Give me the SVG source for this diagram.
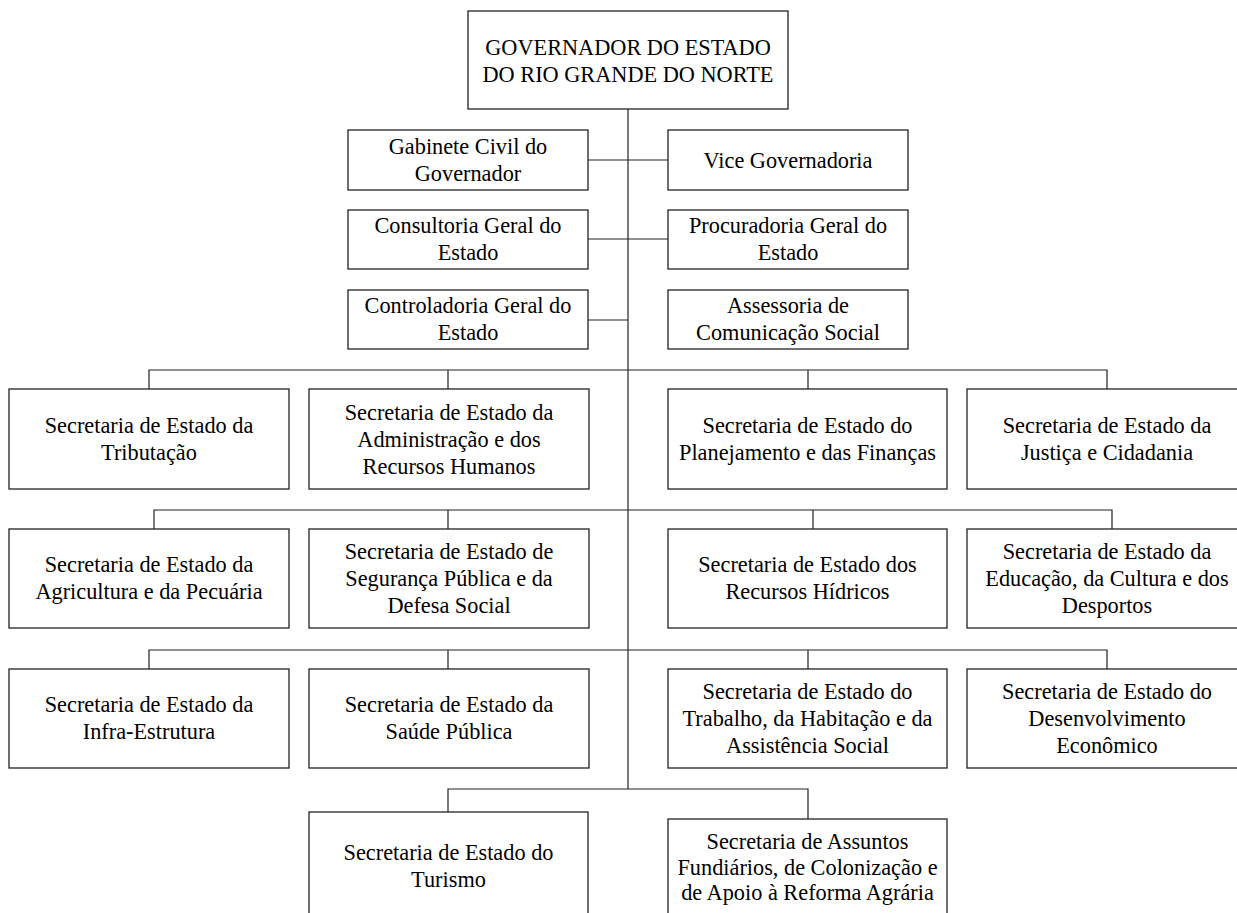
<svg xmlns="http://www.w3.org/2000/svg" width="1237" height="913" viewBox="0 0 1237 913">
<style>
.box{fill:#fff;stroke:#222;stroke-width:1.3}
.ln{fill:none;stroke:#222;stroke-width:1.2}
text{font-family:"Liberation Serif","Times New Roman",serif;font-size:22.3px;fill:#000;text-anchor:middle}
</style>
<rect width="1237" height="913" fill="#fff"/>
<g id="connectors">
<path class="ln" d="M628,109V789"/>
<path class="ln" d="M588,160H668M588,239H668M588,320H628"/>
<path class="ln" d="M149,389V370H1107V389M448,370V389M808,370V389"/>
<path class="ln" d="M154,529V510H1112V529M448,510V529M813,510V529"/>
<path class="ln" d="M149,669V650H1107V669M448,650V669M808,650V669"/>
<path class="ln" d="M448,812V789H808V819"/>
</g>
<g id="governador"><rect class="box" x="468" y="11" width="320" height="98"/><text x="628" y="55">GOVERNADOR DO ESTADO</text><text x="628" y="82">DO RIO GRANDE DO NORTE</text></g>
<g id="gabinete"><rect class="box" x="348" y="130" width="240" height="60"/><text x="468" y="154">Gabinete Civil do</text><text x="468" y="181">Governador</text></g>
<g id="vice"><rect class="box" x="668" y="130" width="240" height="60"/><text x="788" y="167.5">Vice Governadoria</text></g>
<g id="consultoria"><rect class="box" x="348" y="210" width="240" height="59"/><text x="468" y="233">Consultoria Geral do</text><text x="468" y="260">Estado</text></g>
<g id="procuradoria"><rect class="box" x="668" y="210" width="240" height="59"/><text x="788" y="233">Procuradoria Geral do</text><text x="788" y="260">Estado</text></g>
<g id="controladoria"><rect class="box" x="348" y="290" width="240" height="59"/><text x="468" y="313">Controladoria Geral do</text><text x="468" y="340">Estado</text></g>
<g id="assessoria"><rect class="box" x="668" y="290" width="240" height="59"/><text x="788" y="313">Assessoria de</text><text x="788" y="340">Comunicação Social</text></g>

<g id="tributacao"><rect class="box" x="9" y="389" width="280" height="100"/><text x="149" y="433">Secretaria de Estado da</text><text x="149" y="460">Tributação</text></g>
<g id="administracao"><rect class="box" x="309" y="389" width="280" height="100"/><text x="449" y="419.5">Secretaria de Estado da</text><text x="449" y="446.5">Administração e dos</text><text x="449" y="473.5">Recursos Humanos</text></g>
<g id="planejamento"><rect class="box" x="668" y="389" width="279" height="100"/><text x="807.5" y="433">Secretaria de Estado do</text><text x="807.5" y="460">Planejamento e das Finanças</text></g>
<g id="justica"><rect class="box" x="967" y="389" width="280" height="100"/><text x="1107" y="433">Secretaria de Estado da</text><text x="1107" y="460">Justiça e Cidadania</text></g>

<g id="agricultura"><rect class="box" x="9" y="529" width="280" height="99"/><text x="149" y="572">Secretaria de Estado da</text><text x="149" y="599">Agricultura e da Pecuária</text></g>
<g id="seguranca"><rect class="box" x="309" y="529" width="280" height="99"/><text x="449" y="559">Secretaria de Estado de</text><text x="449" y="586">Segurança Pública e da</text><text x="449" y="613">Defesa Social</text></g>
<g id="recursos-hidricos"><rect class="box" x="668" y="529" width="279" height="99"/><text x="807.5" y="572">Secretaria de Estado dos</text><text x="807.5" y="599">Recursos Hídricos</text></g>
<g id="educacao"><rect class="box" x="967" y="529" width="280" height="99"/><text x="1107" y="559">Secretaria de Estado da</text><text x="1107" y="586">Educação, da Cultura e dos</text><text x="1107" y="613">Desportos</text></g>

<g id="infraestrutura"><rect class="box" x="9" y="669" width="280" height="99"/><text x="149" y="712">Secretaria de Estado da</text><text x="149" y="739">Infra-Estrutura</text></g>
<g id="saude"><rect class="box" x="309" y="669" width="280" height="99"/><text x="449" y="712">Secretaria de Estado da</text><text x="449" y="739">Saúde Pública</text></g>
<g id="trabalho"><rect class="box" x="668" y="669" width="279" height="99"/><text x="807.5" y="699">Secretaria de Estado do</text><text x="807.5" y="726">Trabalho, da Habitação e da</text><text x="807.5" y="753">Assistência Social</text></g>
<g id="desenvolvimento"><rect class="box" x="967" y="669" width="280" height="99"/><text x="1107" y="699">Secretaria de Estado do</text><text x="1107" y="726">Desenvolvimento</text><text x="1107" y="753">Econômico</text></g>

<g id="turismo"><rect class="box" x="309" y="812" width="279" height="110"/><text x="448.5" y="860">Secretaria de Estado do</text><text x="448.5" y="887">Turismo</text></g>
<g id="assuntos-fundiarios"><rect class="box" x="668" y="819" width="279" height="110"/><text x="807.5" y="849">Secretaria de Assuntos</text><text x="807.5" y="874.5">Fundiários, de Colonização e</text><text x="807.5" y="900">de Apoio à Reforma Agrária</text></g>
</svg>
